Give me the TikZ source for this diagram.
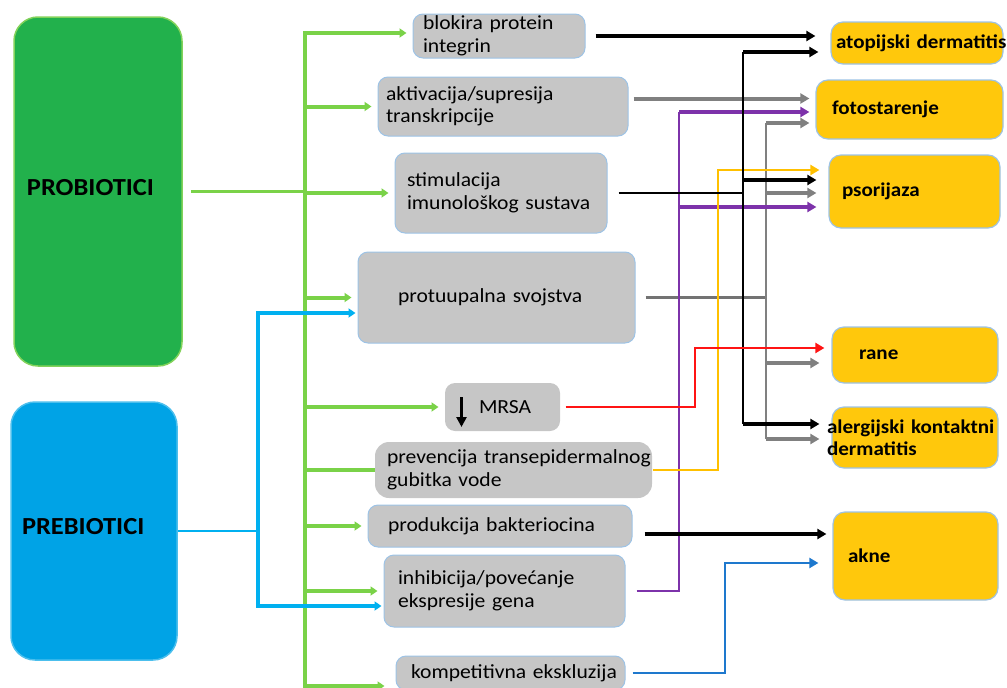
\documentclass[tikz,border=0pt]{standalone}
\usepackage{fontspec}
\setmainfont{Carlito}[FakeStretch=1.08]
\usetikzlibrary{arrows.meta,positioning}
\hyphenpenalty=10000
\exhyphenpenalty=10000

\definecolor{probgreen}{RGB}{34,177,76}
\definecolor{probedge}{RGB}{130,210,90}
\definecolor{prebblue}{RGB}{0,163,230}
\definecolor{boxgray}{RGB}{198,198,198}
\definecolor{boxedge}{RGB}{157,195,230}
\definecolor{effyellow}{RGB}{255,200,12}
\definecolor{linkgreen}{RGB}{122,210,72}
\definecolor{linkblue}{RGB}{0,176,240}
\definecolor{linkpurple}{RGB}{125,50,170}
\definecolor{linkyellow}{RGB}{255,192,0}
\definecolor{linkgray}{RGB}{128,128,128}
\definecolor{linkred}{RGB}{255,20,20}
\definecolor{linkakne}{RGB}{30,120,205}

\begin{document}
\begin{tikzpicture}[x=1pt,y=-1pt,
    font=\fontsize{20}{22.5}\selectfont,
    agent box/.style={rounded corners=24pt, line width=1.5pt, inner ysep=0pt,
        align=left, font=\fontsize{24.5}{28}\selectfont\bfseries},
    cause box/.style={rounded corners=10pt, fill=boxgray, draw=boxedge,
        line width=1pt, inner ysep=0pt, align=left},
    effect box/.style={rounded corners=12pt, fill=effyellow, draw=boxedge,
        line width=1.2pt, inner ysep=0pt, align=left,
        font=\fontsize{19.5}{22}\selectfont\bfseries},
    pointed/.style={-{Triangle[length=9pt,width=10pt]}},
    small pointed/.style={-{Triangle[length=7pt,width=9pt]}},
    green link/.style={draw=linkgreen, line width=4pt, small pointed, shorten >=6pt},
    blue link/.style={draw=linkblue, line width=4pt, small pointed, shorten >=2pt},
    fat link/.style={draw, line width=4pt, pointed, shorten >=12pt},
    slim link/.style={line width=2.2pt}]

    \useasboundingbox (0,0) rectangle (1007,688);

    % Define vertices
    \node[agent box, fill=probgreen, draw=probedge, text width=142pt, inner xsep=13pt,
        minimum height=349pt] (prob) at (98,191.5) {\raisebox{8pt}{PROBIOTICI}};
    \node[agent box, fill=prebblue, draw=prebblue!70, text width=144pt, inner xsep=11pt,
        minimum height=258pt] (preb) at (94,531) {\raisebox{10pt}{PREBIOTICI}};

    \node[cause box, text width=152pt, inner xsep=10pt, minimum height=44pt]
        (blk) at (499,36) {\raisebox{-3pt}{blokira protein}\\\raisebox{-3pt}{integrin}};
    \node[cause box, text width=234pt, inner xsep=8pt, minimum height=59pt]
        (akt) at (503,106.5) {aktivacija/supresija\\transkripcije};
    \node[cause box, text width=188pt, inner xsep=12pt, minimum height=80pt]
        (stim) at (501,193) {stimulacija\\imunološkog~sustava};
    \node[cause box, text width=197pt, inner xsep=40pt, minimum height=91pt]
        (prot) at (496.5,297.5) {\raisebox{-4pt}{protuupalna svojstva}};
    \node[cause box, draw=none, text width=47pt, inner xsep=34pt, minimum height=48pt]
        (mrsa) at (502.5,407) {\raisebox{-9pt}{MRSA}};
    \node[cause box, draw=none, rounded corners=14pt, text width=253pt, inner xsep=12pt,
        minimum height=56pt] (prev) at (513.5,470) {prevencija~transepidermalnog\\gubitka vode};
    \node[cause box, text width=224pt, inner xsep=20pt, minimum height=42pt]
        (prod) at (500,526) {produkcija bakteriocina};
    \node[cause box, text width=213pt, inner xsep=14pt, minimum height=72pt]
        (inh) at (504.5,591) {inhibicija/povećanje\\ekspresije gena};
    \node[cause box, text width=199pt, inner xsep=15pt, minimum height=34pt]
        (komp) at (510.5,673) {kompetitivna~ekskluzija};

    \node[effect box, text width=162pt, inner xsep=5pt, minimum height=42pt]
        (atop) at (917,43) {atopijski~dermatitis};
    \node[effect box, text width=155pt, inner xsep=16pt, minimum height=59pt]
        (foto) at (909.5,109.5) {fotostarenje};
    \node[effect box, text width=145pt, inner xsep=13pt, minimum height=73pt]
        (psor) at (914.5,191.5) {psorijaza};
    \node[effect box, text width=112pt, inner xsep=27pt, minimum height=56pt]
        (rane) at (915,355) {rane};
    \node[effect box, text width=166pt, inner xsep=0pt, minimum height=61pt]
        (alerg) at (915,437.5) {\hspace*{-5pt}alergijski~kontaktni\\\hspace*{-5pt}dermatitis};
    \node[effect box, text width=135pt, inner xsep=15pt, minimum height=88pt]
        (akne) at (915.5,556) {akne};

    % MRSA sign
    \draw[line width=3.5pt, -{Triangle[length=10pt,width=10pt]}]
        ([xshift=17pt,yshift=10pt]mrsa.west) -- ([xshift=17pt,yshift=-20pt]mrsa.west);

    % Junctions and bends
    \coordinate (gtop) at (305,33);
    \coordinate (gbot) at (305,686);
    \coordinate (btop) at (258,313);
    \coordinate (bbot) at (258,606);
    \coordinate (ktop) at (743,52);
    \coordinate (kpso) at (743,180);
    \coordinate (kbot) at (743,424);
    \coordinate (gytop) at (766,123);
    \coordinate (gypso) at (766,193);
    \coordinate (gyran) at (766,363);
    \coordinate (gybot) at (766,439);
    \coordinate (putop) at (679,112);
    \coordinate (pupso) at (679,207);
    \coordinate (yetop) at (718,170);
    \coordinate (rdbend) at (695,348);
    \coordinate (blbend) at (725,563);
    \coordinate (gyakt) at ([yshift=8pt]akt.east);
    \coordinate (kprod) at ([yshift=-8pt]prod.east);

    % Draw edges: probiotici
    \draw[draw=linkgreen, slim link, shorten <=8pt] (prob.east) -- (prob.east -| gtop);
    \draw[green link] (gbot) -- (gtop) -- (gtop -| blk.west);
    \draw[green link, shorten >=11pt] (gtop) -- (gbot) -- (gbot -| komp.west);
    \path[every edge/.style={green link}]
        (akt.west -| gtop) edge (akt.west)
        (stim.west -| gtop) edge (stim.west)
        (prot.west -| gtop) edge (prot.west)
        (mrsa.west -| gtop) edge (mrsa.west)
        (prod.west -| gtop) edge (prod.west)
        (inh.west -| gtop) edge (inh.west);
    \draw[draw=linkgreen, line width=4pt] (prev.west -| gtop) -- (prev.west);

    % Draw edges: prebiotici
    \draw[draw=linkblue, slim link] (preb.east) -- (preb.east -| btop);
    \draw[blue link] (bbot) -- (btop) -- (btop -| prot.west);
    \draw[blue link] (btop) -- (bbot) -- (bbot -| inh.west);

    % Draw edges: effects
    \draw[draw=linkgray, fat link, shorten <=5pt, shorten >=6pt] (gyakt) -- (gyakt -| foto.west);
    \draw[draw=linkgray!90!black, slim link, shorten <=10pt] (prot.east) -- (prot.east -| gytop);
    \draw[draw=linkgray, slim link] (gytop) -- (gybot);
    \draw[draw=linkgray, fat link, shorten >=6pt] (gytop) -- (gytop -| foto.west);
    \path[every edge/.style={fat link, draw=linkgray}]
        (gypso) edge (gypso -| psor.west)
        (gyran) edge (gyran -| rane.west)
        (gybot) edge (gybot -| alerg.west);

    \draw[draw=linkpurple, slim link, shorten <=11pt] (inh.east) -- (inh.east -| putop) -- (putop);
    \draw[draw=linkpurple, line width=3.5pt, pointed, shorten >=6pt] (putop) -- (putop -| foto.west);
    \draw[draw=linkpurple, line width=3.5pt, pointed, shorten >=12pt] (pupso) -- (pupso -| psor.west);

    \draw[draw=linkyellow, slim link, pointed, shorten >=9pt]
        (prev.east) -- (prev.east -| yetop) -- (yetop) -- (yetop -| psor.west);

    \draw[slim link, shorten <=11pt] (stim.east) -- (stim.east -| ktop);
    \draw[slim link] (ktop) -- (kbot);
    \path[every edge/.style={fat link}]
        (ktop) edge (ktop -| atop.west)
        (kpso) edge (kpso -| psor.west)
        (kbot) edge (kbot -| alerg.west);
    \draw[fat link, shorten <=10pt, shorten >=15pt] (blk.east) -- (blk.east -| atop.west);

    \draw[draw=linkred, slim link, pointed, shorten <=5pt, shorten >=7pt]
        (mrsa.east) -- (mrsa.east -| rdbend) -- (rdbend) -- (rdbend -| rane.west);

    \draw[fat link, shorten <=12pt, shorten >=6pt] (kprod) -- (kprod -| akne.west);

    \draw[draw=linkakne, slim link, pointed, shorten <=7pt, shorten >=14pt]
        (komp.east) -- (komp.east -| blbend) -- (blbend) -- (blbend -| akne.west);

\end{tikzpicture}
\end{document}
